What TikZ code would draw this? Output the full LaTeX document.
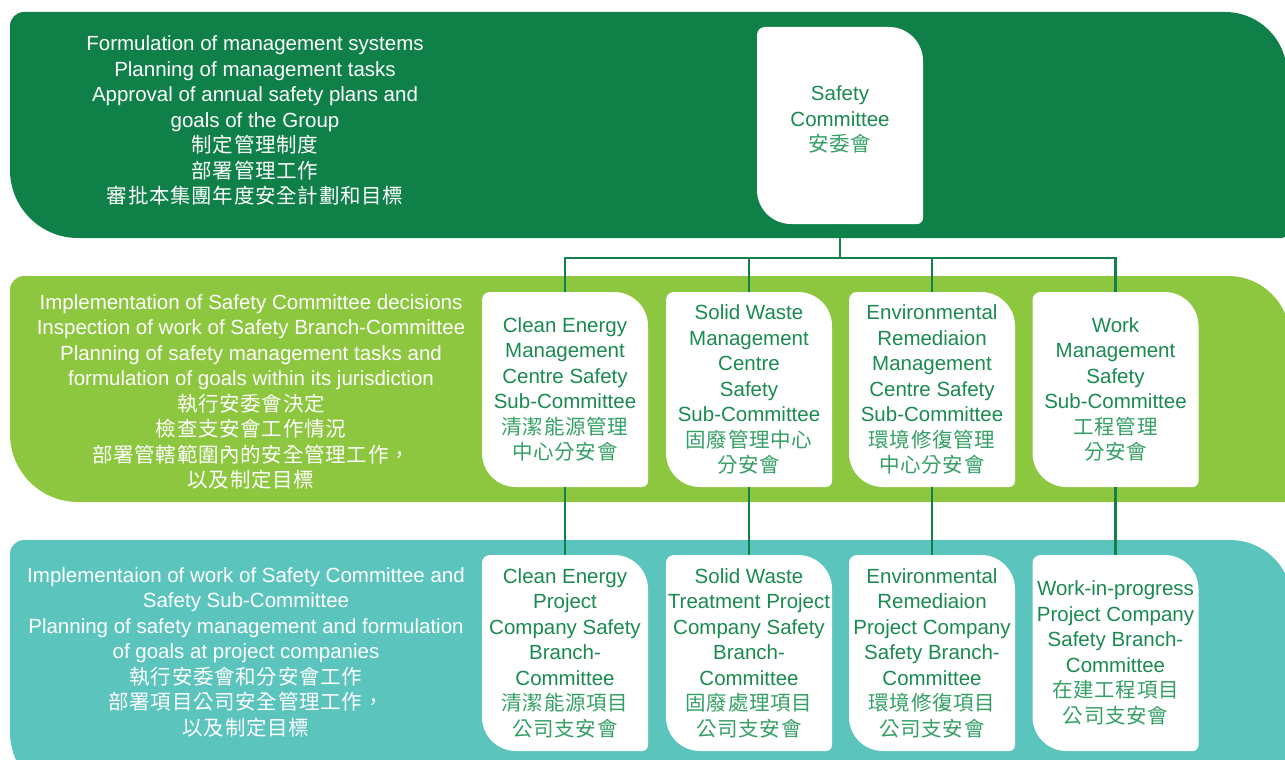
\documentclass[tikz,border=0pt]{standalone}
\usepackage{fontspec}
\setmainfont{Liberation Sans}
\newfontfamily\cjk[LetterSpace=3.5]{Noto Sans CJK TC}
\definecolor{dkgreen}{HTML}{0E8048}
\definecolor{ltgreen}{HTML}{8DC63F}
\definecolor{teal}{HTML}{5BC4BD}
\definecolor{linegreen}{HTML}{11804A}
\definecolor{boxtext}{HTML}{1A8A50}
\definecolor{zhgreen}{HTML}{35A065}
\newcommand\zh[1]{{\cjk\color{zhgreen}#1}}
\newcommand\zw[1]{{\cjk #1}}
\tikzset{
  txt/.style={font=\fontsize{20.5pt}{25.5pt}\selectfont},
  bandtext/.style={txt, align=center, text=white, inner sep=0pt},
  orgbox/.style={txt, align=center, text=boxtext, inner sep=0pt,
    minimum width=166pt, minimum height=195pt,
    path picture={\fill[white] (path picture bounding box.west)
      [rounded corners=8pt] |- (path picture bounding box.north)
      [rounded corners=34pt] -| (path picture bounding box.east)
      [rounded corners=6pt] |- (path picture bounding box.south)
      [rounded corners=34pt] -| (path picture bounding box.west);}},
  conn/.style={draw=linegreen, line width=2.6pt}
}
\begin{document}
\begin{tikzpicture}[x=1pt,y=-1pt]
\useasboundingbox (0,0) rectangle (1285,760);
\begin{scope}
\clip (0,0) rectangle (1285,760);
% bands
\fill[dkgreen] (10,100) [rounded corners=14pt] |- (600,12)
  [rounded corners=62pt] -| (1287,150)
  [rounded corners=5pt] |- (600,238)
  [rounded corners=68pt] -| (10,100);
\fill[ltgreen] (10,380) [rounded corners=14pt] |- (600,276)
  [rounded corners=62pt] -| (1290,400)
  [rounded corners=5pt] |- (600,502)
  [rounded corners=68pt] -| (10,380);
\fill[teal] (10,650) [rounded corners=14pt] |- (600,540)
  [rounded corners=62pt] -| (1292,700)
  [rounded corners=5pt] |- (600,800)
  [rounded corners=68pt] -| (10,650);
\end{scope}

% band texts
\node[bandtext] (t1) at (255,120.5) {Formulation of management systems\\
Planning of management tasks\\
Approval of annual safety plans and\\
goals of the Group\\
\zw{制定管理制度}\\
\zw{部署管理工作}\\
\zw{審批本集團年度安全計劃和目標}};

\node[bandtext] (t2) at (251,392) {Implementation of Safety Committee decisions\\
Inspection of work of Safety Branch-Committee\\
Planning of safety management tasks and\\
formulation of goals within its jurisdiction\\
\zw{執行安委會決定}\\
\zw{檢查支安會工作情況}\\
\zw{部署管轄範圍內的安全管理工作，}\\
\zw{以及制定目標}};

\node[bandtext] (t3) at (246,652) {Implementaion of work of Safety Committee and\\
Safety Sub-Committee\\
Planning of safety management and formulation\\
of goals at project companies\\
\zw{執行安委會和分安會工作}\\
\zw{部署項目公司安全管理工作，}\\
\zw{以及制定目標}};

% boxes
\node[orgbox, minimum height=197pt, text depth=13pt] (sc) at (840,125.5) {Safety\\Committee\\\zh{安委會}};

\node[orgbox] (m1) at (565,389.5) {Clean Energy\\Management\\Centre Safety\\Sub-Committee\\\zh{清潔能源管理}\\\zh{中心分安會}};
\node[orgbox] (m2) at (749,389.5) {Solid Waste\\Management\\Centre\\Safety\\Sub-Committee\\\zh{固廢管理中心}\\\zh{分安會}};
\node[orgbox] (m3) at (932,389.5) {Environmental\\Remediaion\\Management\\Centre Safety\\Sub-Committee\\\zh{環境修復管理}\\\zh{中心分安會}};
\node[orgbox] (m4) at (1115.5,389.5) {Work\\Management\\Safety\\Sub-Committee\\\zh{工程管理}\\\zh{分安會}};

\node[orgbox, minimum height=196pt] (b1) at (565,653) {Clean Energy\\Project\\Company Safety\\Branch-\\Committee\\\zh{清潔能源項目}\\\zh{公司支安會}};
\node[orgbox, minimum height=196pt] (b2) at (749,653) {Solid Waste\\Treatment Project\\Company Safety\\Branch-\\Committee\\\zh{固廢處理項目}\\\zh{公司支安會}};
\node[orgbox, minimum height=196pt] (b3) at (932,653) {Environmental\\Remediaion\\Project Company\\Safety Branch-\\Committee\\\zh{環境修復項目}\\\zh{公司支安會}};
\node[orgbox, minimum height=196pt] (b4) at (1115.5,653) {Work-in-progress\\Project Company\\Safety Branch-\\Committee\\\zh{在建工程項目}\\\zh{公司支安會}};

% connectors
\coordinate (bus) at (840,258);
\draw[conn] (sc.south) -- (bus);
\draw[conn] (m1.north) |- (bus) -| (m4.north);
\draw[conn] (m2.north) -- (m2.north |- bus);
\draw[conn] (m3.north) -- (m3.north |- bus);
\draw[conn] (m1.south) -- (b1.north);
\draw[conn] (m2.south) -- (b2.north);
\draw[conn] (m3.south) -- (b3.north);
\draw[conn] (m4.south) -- (b4.north);
\end{tikzpicture}
\end{document}
